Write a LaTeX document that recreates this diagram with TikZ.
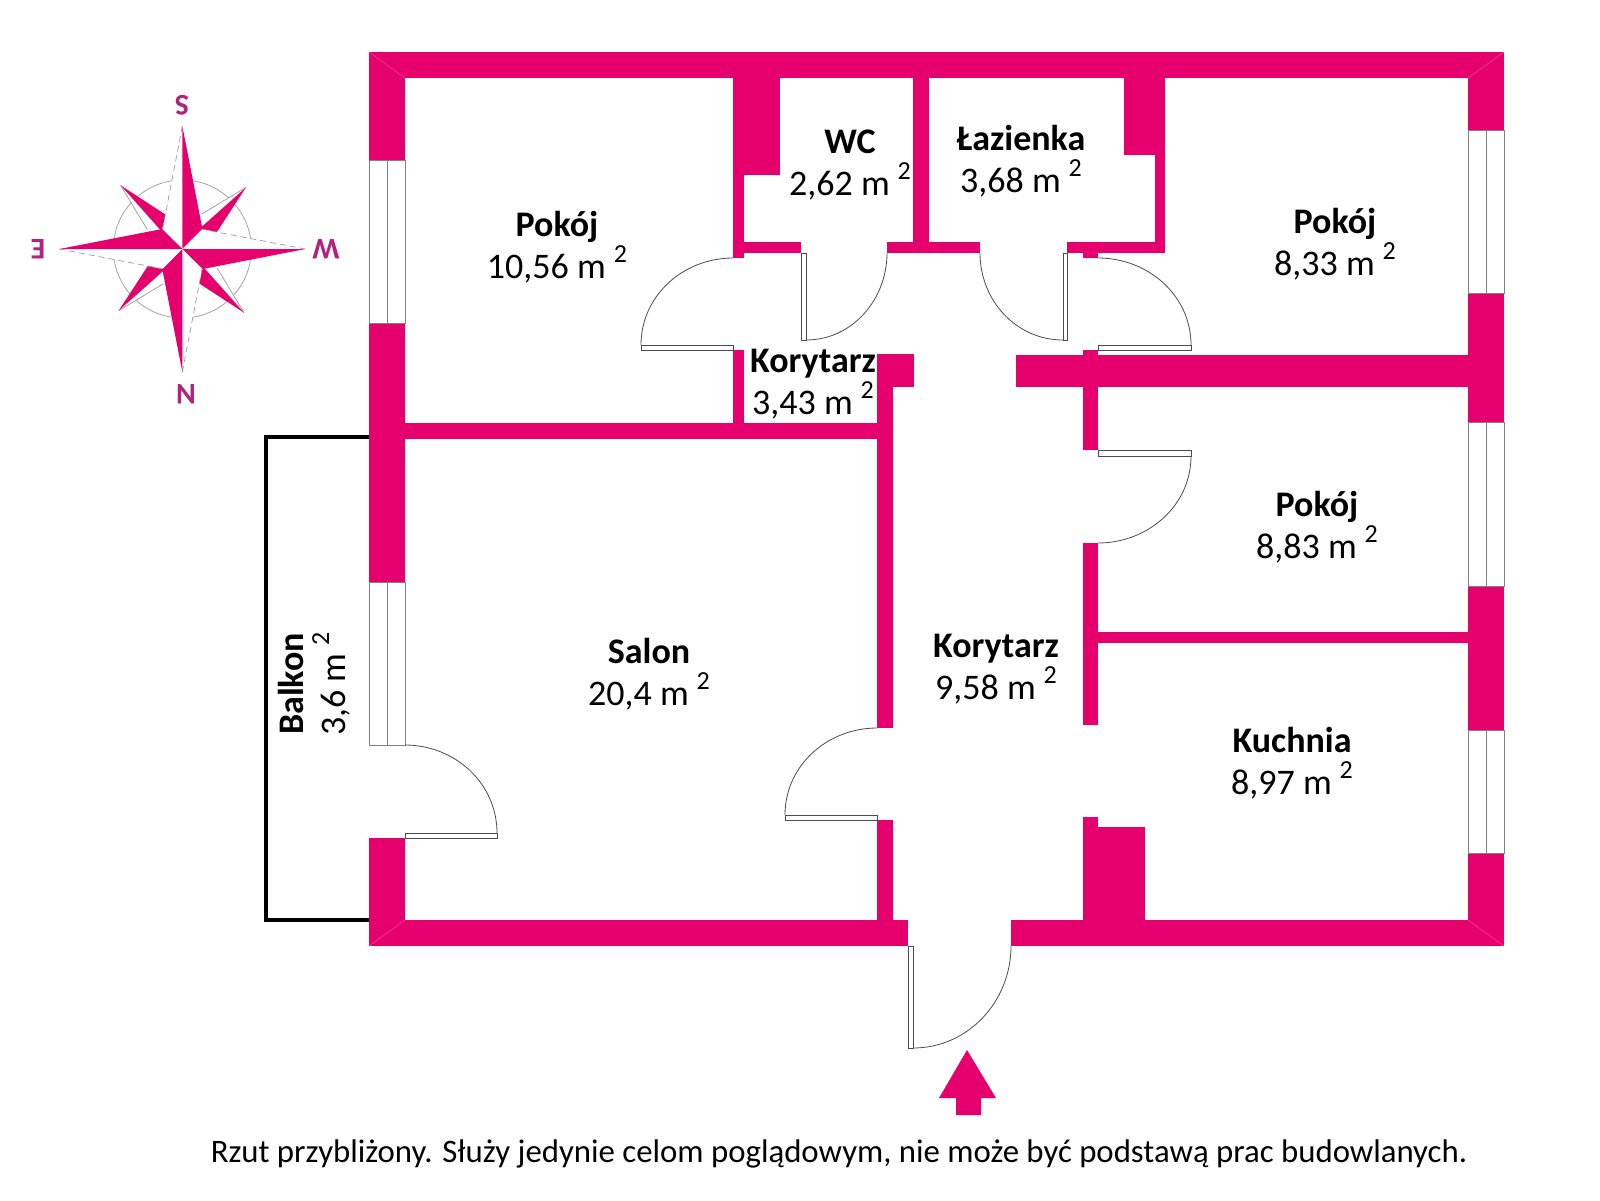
\documentclass[tikz,border=0pt]{standalone}
\usepackage{fontspec}
\setmainfont{Carlito}
\usepackage{tikz}
\definecolor{wallpink}{HTML}{E5006D}
\definecolor{letterpink}{HTML}{B0247A}
\definecolor{framegray}{rgb}{0.5,0.5,0.5}
\definecolor{doorgray}{rgb}{0.3,0.3,0.3}
\newcommand{\sqm}[1]{#1 m\,\raisebox{0.45em}{\fontsize{13}{13}\selectfont\kern1pt 2}}
\tikzset{
    wall/.style={fill=wallpink,draw=none},
    winframe/.style={draw=framegray,line width=0.5pt,fill=white},
    doorline/.style={draw=doorgray,line width=0.4pt},
    thinline/.style={draw=framegray!80!white,line width=0.35pt},
    room/.style={align=center,inner sep=0pt,font=\fontsize{18}{21}\selectfont},
    letter/.style={rotate=180,inner sep=0pt,text=letterpink,font=\fontsize{15}{15}\selectfont\bfseries}
}

\begin{document}
\begin{tikzpicture}[x=0.5pt,y=-0.5pt]
\useasboundingbox (0,0) rectangle (1600,1200);

% outer walls
\fill[wall] (369,52) rectangle (1504,78);
\fill[wall] (369,920) rectangle (908,946);
\fill[wall] (1011,920) rectangle (1504,946);
\fill[wall] (369,52) rectangle (405,160);
\fill[wall] (369,323) rectangle (405,582);
\fill[wall] (369,838) rectangle (405,946);
\fill[wall] (1468,52) rectangle (1504,130);
\fill[wall] (1468,293) rectangle (1504,422);
\fill[wall] (1468,586) rectangle (1504,730);
\fill[wall] (1468,853) rectangle (1504,946);

% inner walls
\fill[wall] (733,78) rectangle (780,175);
\fill[wall] (733,175) rectangle (744,258);
\fill[wall] (733,350) rectangle (744,423);
\fill[wall] (744,242) rectangle (801,253);
\fill[wall] (887,242) rectangle (980,253);
\fill[wall] (1067,242) rectangle (1165,253);
\fill[wall] (913,78) rectangle (929,253);
\fill[wall] (1124,78) rectangle (1165,155);
\fill[wall] (1155,155) rectangle (1165,253);
\fill[wall] (1083,253) rectangle (1098,258);
\fill[wall] (405,423) rectangle (893,439);
\fill[wall] (877,354) rectangle (914,387);
\fill[wall] (877,387) rectangle (893,728);
\fill[wall] (877,820) rectangle (893,920);
\fill[wall] (1016,355) rectangle (1468,387);
\fill[wall] (1083,350) rectangle (1098,450);
\fill[wall] (1083,543) rectangle (1098,725);
\fill[wall] (1098,632) rectangle (1468,643);
\fill[wall] (1083,817) rectangle (1098,920);
\fill[wall] (1098,827) rectangle (1145,920);

% corner seams
\foreach \ax/\ay/\bx/\by in {369/52/405/78,1504/52/1468/78,369/946/405/920,1504/946/1468/920} {
    \draw[wallpink!75!white,line width=0.3pt] (\ax,\ay) -- (\bx,\by);
}

% balcony
\draw[black,line width=1.6pt] (369,437) -- (266,437) -- (266,920) -- (369,920);

% windows
\foreach \xa/\ya/\xb/\yb in {369/160/405/323,369/582/405/745,1468/130/1504/293,1468/422/1504/586,1468/730/1504/853} {
    \draw[winframe] (\xa,\ya) rectangle (\xb,\yb);
    \draw[winframe] ({(\xa+\xb)/2},\ya) -- ({(\xa+\xb)/2},\yb);
}

% doors
\draw[doorline] (405,833) rectangle (497,838);
\draw[doorline] (497,833) to[out=90,in=0] (405,745);
\draw[doorline] (641,345) rectangle (733,350);
\draw[doorline] (641,345) to[out=90,in=180] (733,258);
\draw[doorline] (801,253) rectangle (806,340);
\draw[doorline] (887,253) to[out=-90,in=0] (806,340);
\draw[doorline] (1063,253) rectangle (1067,340);
\draw[doorline] (980,253) to[out=-90,in=180] (1063,340);
\draw[doorline] (1098,345) rectangle (1191,350);
\draw[doorline] (1191,345) to[out=90,in=0] (1098,258);
\draw[doorline] (1098,450) rectangle (1191,456);
\draw[doorline] (1191,456) to[out=-90,in=0] (1098,543);
\draw[doorline] (785,815) rectangle (877,820);
\draw[doorline] (785,815) to[out=90,in=180] (877,728);
\draw[doorline] (908,946) rectangle (913,1048);
\draw[doorline] (1011,946) to[out=-90,in=0] (913,1048);

% entrance arrow
\fill[wall] (967,1050) -- (996,1098) -- (981,1098) -- (981,1115) -- (956,1115) -- (956,1098) -- (939,1098) -- cycle;

% compass, in units of a third of a pixel
\begin{scope}[shift={(0,60)},x=0.16667pt,y=-0.16667pt]
\draw[thinline] (547,567) circle (207);
\foreach \a in {0,90,180,270} {
    \begin{scope}[rotate around={-\a:(547,567)}]
    \fill[white] (738,382) -- (605,462) -- (612,508) -- cycle;
    \draw[thinline] (738,382) -- (605,462);
    \fill[wall] (738,382) -- (650,517) -- (600,505) -- cycle;
    \end{scope}
}
\foreach \a in {0,90,180,270} {
    \begin{scope}[rotate around={-\a:(547,567)}]
    \fill[white] (547,198) -- (488,506) -- (547,567) -- cycle;
    \draw[thinline,densely dashed] (547,198) -- (488,506);
    \fill[wall] (547,198) -- (607,506) -- (547,567) -- cycle;
    \end{scope}
}
\end{scope}
\node[letter] (compS) at (182,105) {S};
\node[letter] (compN) at (186,394) {N};
\node[letter] (compE) at (38,249) {E};
\node[letter] (compW) at (326,249) {W};

% room labels
\node[room] (pokojA) at (557,247) {\textbf{Pokój}\\\sqm{10,56}};
\node[room] (wc) at (850,165) {\textbf{WC}\\\sqm{2,62}};
\node[room] (lazienka) at (1021,161) {\textbf{Łazienka}\\\sqm{3,68}};
\node[room] (pokojB) at (1335,244) {\textbf{Pokój}\\\sqm{8,33}};
\node[room] (korytarzA) at (813,384) {\textbf{Korytarz}\\\sqm{3,43}};
\node[room] (pokojC) at (1317,527) {\textbf{Pokój}\\\sqm{8,83}};
\node[room] (salon) at (649,674) {\textbf{Salon}\\\sqm{20,4}};
\node[room] (korytarzB) at (996,669) {\textbf{Korytarz}\\\sqm{9,58}};
\node[room] (kuchnia) at (1292,763) {\textbf{Kuchnia}\\\sqm{8,97}};
\node[room,rotate=90] (balkon) at (314,684) {\textbf{Balkon}\\\sqm{3,6}};

\node[inner sep=0pt,font=\fontsize{16.4}{19}\selectfont] (footnote) at (839,1154) {Rzut przybliżony. Służy jedynie celom poglądowym, nie może być podstawą prac budowlanych.};
\end{tikzpicture}
\end{document}
